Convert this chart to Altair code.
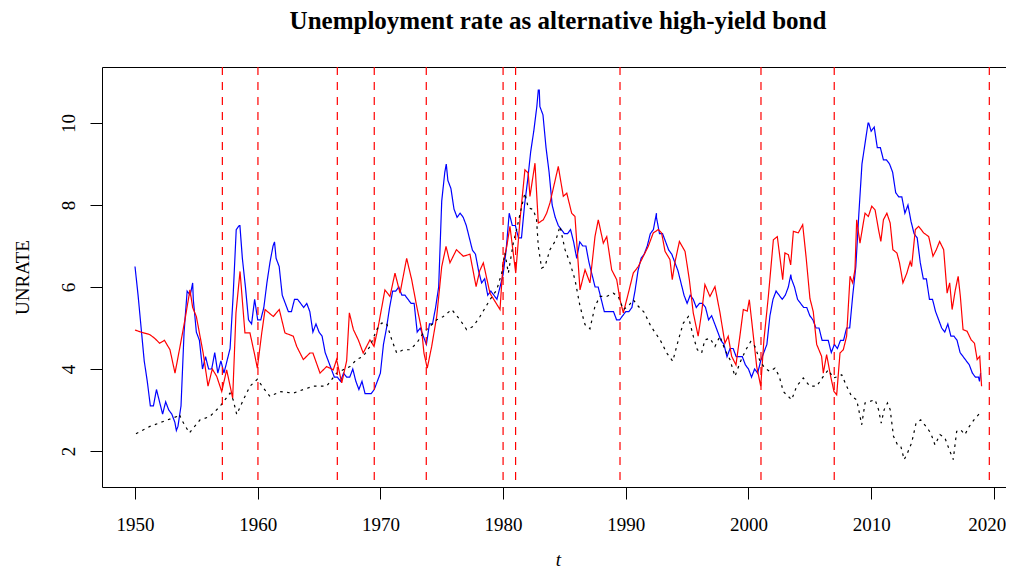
import altair as alt
import pandas as pd

# ---------------- data ----------------
# Blue: UNRATE, quarterly readings starting 1950.0 (step 0.25 yr)
blue_start = 1950.0
blue_v = [
    6.5, 5.8, 5.0, 4.2,   3.7, 3.1, 3.1, 3.5,   3.2, 2.9, 3.2, 3.0,   2.9, 2.7, 2.6, 3.1,
    4.9, 5.9, 5.8, 5.7,   4.9, 4.7, 4.0, 4.3,   4.0, 4.0, 4.4, 3.9,   4.2, 3.9, 4.2, 4.5,
    5.8, 7.4, 7.5, 6.7,   6.0, 5.2, 5.1, 5.7,   5.2, 5.2, 5.5, 6.1,   6.6, 7.0, 6.7, 6.5,
    5.8, 5.6, 5.4, 5.4,   5.7, 5.7, 5.6, 5.5,   5.6, 5.4, 4.9, 5.1,   4.9, 4.8, 4.4, 4.2,
    4.0, 3.8, 3.8, 3.7,   3.9, 3.8, 3.8, 4.0,   3.7, 3.5, 3.7, 3.4,   3.4, 3.4, 3.5, 3.7,
    3.9, 4.6, 5.0, 5.5,   5.9, 5.9, 6.0, 5.8,   5.8, 5.7, 5.6, 5.6,   4.9, 5.0, 4.8, 4.6,
    5.1, 5.1, 5.5, 6.0,   8.1, 8.8, 8.6, 8.4,   7.9, 7.7, 7.8, 7.7,   7.5, 7.2, 6.9, 6.8,
    6.4, 6.1, 6.2, 5.8,   5.9, 5.8, 5.7, 6.0,   6.3, 6.9, 7.8, 7.5,   7.5, 7.2, 7.2, 8.0,
    8.6, 9.3, 9.8, 10.4,  10.4, 10.2, 9.4, 8.8, 8.0, 7.7, 7.5, 7.4,   7.3, 7.3, 7.4, 7.1,
    6.7, 7.1, 7.0, 7.0,   6.6, 6.3, 6.0, 6.0,   5.7, 5.4, 5.4, 5.4,   5.4, 5.2, 5.2, 5.3,
    5.4, 5.4, 5.5, 5.9,   6.4, 6.7, 6.8, 7.0,   7.3, 7.4, 7.7, 7.3,   7.3, 7.1, 6.9, 6.8,
    6.6, 6.4, 6.1, 5.8,   5.6, 5.8, 5.7, 5.5,   5.6, 5.6, 5.5, 5.2,   5.3, 5.1, 4.9, 4.7,
    4.6, 4.3, 4.5, 4.5,   4.3, 4.3, 4.3, 4.1,   4.0, 3.8, 4.0, 3.9,   4.2, 4.4, 4.6, 5.3,
    5.7, 5.9, 5.8, 5.7,   5.8, 6.0, 6.2, 6.0,   5.7, 5.6, 5.5, 5.5,   5.3, 5.2, 5.0, 5.0,
    4.7, 4.7, 4.7, 4.4,   4.6, 4.5, 4.7, 4.7,   5.0, 5.0, 5.8, 6.5,   7.8, 9.0, 9.5, 10.0,
    9.8, 9.9, 9.4, 9.4,   9.1, 9.1, 9.0, 8.8,   8.3, 8.2, 8.2, 7.8,   8.0, 7.6, 7.3, 7.2,
    6.6, 6.2, 6.2, 5.7,   5.7, 5.4, 5.2, 5.0,   4.9, 5.1, 4.8, 4.8,   4.7, 4.4, 4.3, 4.2,
    4.1, 3.9, 3.8, 3.8,
]
# Blue: extra readings at local peaks / troughs / the end
blue_extra_t = [1953.37, 1954.7, 1958.55, 1961.37, 1975.37, 1982.87, 1982.95,
                1992.5, 2003.45, 2009.8, 2018.83, 2018.92]
blue_extra_v = [2.5, 6.1, 7.5, 7.1, 9.0, 10.8, 10.8, 7.8, 6.3, 10.0, 3.7, 3.9]

# Red series (time, value)
red_t = [1950.0, 1950.5, 1951.2, 1951.6, 1952.0, 1952.4, 1952.85, 1953.26, 1953.67, 1954.07,
         1954.48, 1954.7, 1955.0, 1955.55, 1955.95, 1956.3, 1956.66, 1957.07, 1957.47, 1957.96,
         1958.23, 1958.56, 1958.96, 1959.37, 1959.78, 1959.97, 1960.33, 1960.6, 1961.27, 1961.76,
         1962.22, 1962.9, 1963.18, 1963.72, 1964.26, 1964.5, 1965.08, 1965.62, 1966.16, 1966.43,
         1966.85, 1967.25, 1967.47, 1967.8, 1968.2, 1968.6, 1969.15, 1969.48, 1969.83, 1970.37,
         1970.78, 1971.19, 1971.6, 1972.14, 1972.55, 1972.96, 1973.36, 1973.55, 1973.82, 1974.18,
         1974.59, 1975.0, 1975.35, 1975.67, 1976.2, 1976.76, 1977.3, 1977.8, 1978.1, 1978.39,
         1978.93, 1979.75, 1980.0, 1980.3, 1980.56, 1981.03, 1981.38, 1981.78, 1982.05, 1982.19,
         1982.6, 1982.87, 1983.28, 1983.55, 1983.82, 1984.5, 1984.91, 1985.19, 1985.59, 1985.86,
         1986.27, 1986.68, 1987.08, 1987.49, 1987.76, 1988.17, 1988.45, 1988.85, 1989.26, 1989.53,
         1989.8, 1990.21, 1990.61, 1991.02, 1991.43, 1991.83, 1992.24, 1992.65, 1992.92, 1993.2,
         1993.6, 1993.79, 1994.0, 1994.37, 1994.83, 1995.18, 1995.5, 1995.9, 1996.18, 1996.45,
         1996.86, 1997.27, 1997.68, 1998.08, 1998.35, 1998.63, 1998.98, 1999.3, 1999.58, 1999.9,
         2000.07, 2000.4, 2000.67, 2001.0, 2001.26, 2001.62, 2002.03, 2002.35, 2002.79, 2002.97,
         2003.25, 2003.44, 2003.66, 2004.06, 2004.42, 2004.69, 2005.01, 2005.28, 2005.56, 2005.96,
         2006.1, 2006.37, 2006.7, 2006.97, 2007.19, 2007.46, 2007.73, 2008.0, 2008.28, 2008.49,
         2008.68, 2008.82, 2009.09, 2009.36, 2009.5, 2009.77, 2010.05, 2010.32, 2010.6, 2010.79,
         2011.0, 2011.28, 2011.55, 2011.77, 2012.1, 2012.31, 2012.59, 2012.91, 2013.18, 2013.3,
         2013.6, 2013.87, 2014.28, 2014.69, 2015.04, 2015.31, 2015.58, 2015.91, 2016.19, 2016.4,
         2016.6, 2016.86, 2017.09, 2017.27, 2017.49, 2017.82, 2018.15, 2018.42, 2018.64, 2018.85,
         2019.0]
red_v = [4.95, 4.9, 4.84, 4.75, 4.63, 4.7, 4.47, 3.9, 4.55, 5.2,
         5.93, 5.5, 5.28, 4.4, 3.58, 4.0, 3.82, 3.45, 3.98, 3.29,
         5.37, 6.38, 4.88, 4.88, 4.31, 4.02, 4.88, 5.45, 5.28, 5.45,
         4.88, 4.8, 4.55, 4.23, 4.39, 4.39, 3.9, 4.06, 3.98, 4.23,
         3.66, 4.2, 5.37, 4.96, 4.71, 4.39, 4.71, 4.55, 5.04, 5.93,
         5.77, 6.34, 5.85, 6.7, 6.18, 5.53, 4.96, 4.39, 4.02, 4.55,
         5.28, 6.5, 6.99, 6.59, 6.91, 6.75, 6.8, 6.01, 6.4, 6.59,
         5.85, 5.45, 6.59, 6.99, 7.48, 6.34, 7.64, 8.86, 8.78, 8.21,
         9.02, 7.56, 7.64, 7.8, 8.05, 8.94, 8.21, 8.29, 7.8, 7.72,
         5.93, 6.42, 6.1, 7.23, 7.64, 7.07, 7.23, 6.42, 6.18, 5.69,
         5.37, 5.85, 6.34, 6.5, 6.75, 6.99, 7.32, 7.4, 7.32, 6.87,
         6.67, 6.18, 6.59, 7.11, 6.87, 6.18, 5.37, 4.8, 5.37, 6.06,
         5.77, 6.01, 5.37, 4.63, 4.8, 4.31, 4.1, 4.8, 5.45, 5.41,
         5.69, 4.8, 4.06, 3.58, 4.71, 5.77, 7.15, 7.23, 6.18, 6.83,
         6.79, 6.54, 7.36, 7.32, 7.52, 6.75, 5.72, 5.4, 4.6, 4.31,
         3.9, 4.35, 3.82, 3.45, 3.37, 4.39, 4.47, 4.8, 6.26, 6.1,
         6.42, 7.64, 7.07, 7.56, 7.8, 7.72, 7.97, 7.88, 7.4, 7.11,
         7.64, 7.8, 7.56, 6.91, 6.83, 6.59, 6.1, 6.34, 6.62, 6.5,
         7.4, 7.48, 7.32, 7.23, 6.75, 6.91, 7.11, 6.91, 5.85, 6.1,
         5.45, 5.93, 6.26, 5.77, 4.96, 4.92, 4.71, 4.63, 4.23, 4.31,
         3.58]

# Black dotted series (time, value)
black_t = [1950.08, 1951.22, 1952.3, 1953.4, 1953.6, 1953.8, 1954.43, 1955.3, 1956.1, 1956.93,
           1957.74, 1958.0, 1958.29, 1958.83, 1959.37, 1959.97, 1960.46, 1961.0, 1961.82, 1962.9,
           1963.72, 1964.53, 1965.62, 1966.43, 1966.97, 1967.52, 1968.06, 1968.6, 1969.15, 1969.7,
           1970.1, 1970.5, 1970.93, 1971.33, 1971.88, 1972.4, 1972.96, 1973.5, 1974.04, 1974.59,
           1975.13, 1975.81, 1976.49, 1977.03, 1977.57, 1978.12, 1978.93, 1979.48, 1979.89, 1980.15,
           1980.43, 1980.83, 1981.1, 1981.52, 1981.78, 1982.05, 1982.46, 1982.73, 1982.87, 1983.14,
           1983.41, 1983.82, 1984.31, 1984.64, 1985.05, 1985.45, 1985.86, 1986.27, 1986.68, 1987.08,
           1987.49, 1987.9, 1988.45, 1988.98, 1989.39, 1989.8, 1990.21, 1990.61, 1991.02, 1991.5,
           1992.05, 1992.8, 1993.34, 1993.83, 1994.29, 1994.69, 1995.1, 1995.5, 1995.83, 1996.18,
           1996.45, 1996.86, 1997.27, 1997.68, 1998.08, 1998.49, 1998.9, 1999.3, 1999.79, 2000.18,
           2000.53, 2000.94, 2001.34, 2001.75, 2002.16, 2002.51, 2002.84, 2003.52, 2003.93, 2004.47,
           2005.01, 2005.56, 2006.1, 2006.51, 2006.92, 2007.33, 2007.6, 2008.0, 2008.41, 2008.82,
           2009.04, 2009.23, 2009.5, 2009.9, 2010.32, 2010.6, 2010.82, 2011.06, 2011.33, 2011.55,
           2011.82, 2012.15, 2012.42, 2012.69, 2012.96, 2013.3, 2013.66, 2014.04, 2014.47, 2014.85,
           2015.2, 2015.61, 2016.01, 2016.37, 2016.69, 2016.97, 2017.29, 2017.64, 2018.0, 2018.38,
           2018.81]
black_v = [2.42, 2.6, 2.72, 2.84, 2.9, 2.76, 2.44, 2.76, 2.84, 3.09,
           3.41, 3.25, 2.89, 3.25, 3.58, 3.75, 3.54, 3.33, 3.45, 3.41,
           3.5, 3.58, 3.58, 3.9, 3.98, 4.06, 4.23, 4.31, 4.55, 4.96,
           5.12, 5.12, 4.71, 4.39, 4.47, 4.47, 4.63, 4.88, 5.04, 5.2,
           5.28, 5.45, 5.2, 4.96, 5.04, 5.28, 5.69, 5.93, 6.34, 6.83,
           6.34, 7.07, 7.4, 7.97, 8.29, 7.93, 7.89, 7.64, 6.99, 6.46,
           6.5, 6.91, 7.15, 7.48, 6.91, 6.59, 6.18, 5.53, 5.08, 4.98,
           5.53, 5.77, 5.77, 5.85, 5.77, 5.45, 5.53, 5.69, 5.53, 5.38,
           5.04, 4.71, 4.39, 4.19, 4.71, 5.12, 5.28, 4.8, 4.47, 4.39,
           4.71, 4.75, 4.55, 4.8, 4.47, 4.23, 3.82, 4.15, 4.47, 4.67,
           4.55, 4.19, 4.02, 3.94, 4.02, 3.82, 3.45, 3.25, 3.58, 3.78,
           3.58, 3.58, 3.82, 3.98, 3.78, 3.82, 3.86, 3.58, 3.33, 3.25,
           2.93, 2.64, 3.17, 3.21, 3.25, 3.01, 2.68, 3.01, 3.17, 3.01,
           2.36, 2.15, 2.11, 1.79, 1.95, 2.2, 2.68, 2.76, 2.6, 2.44,
           2.15, 2.4, 2.32, 2.03, 1.79, 2.48, 2.52, 2.4, 2.6, 2.76,
           2.91]

# Vertical dashed lines (years)
vline_years = [1957.12, 1960.02, 1966.49, 1969.5, 1973.74, 1980.0, 1981.02,
               1989.53, 2001.02, 2006.99, 2019.63]

x_ticks = [1950, 1960, 1970, 1980, 1990, 2000, 2010, 2020]
y_ticks = [2, 4, 6, 8, 10]

# ---------------- build tables ----------------
blue_t = [blue_start + 0.25 * i for i in range(len(blue_v))]
blue_df = pd.DataFrame({"t": blue_t + blue_extra_t, "v": blue_v + blue_extra_v})
blue_df = blue_df.sort_values("t")
blue_df["series"] = "UNRATE"
red_df = pd.DataFrame({"t": red_t, "v": red_v, "series": "alternative"})
black_df = pd.DataFrame({"t": black_t, "v": black_v, "series": "trend"})
df = pd.concat([blue_df, red_df, black_df], ignore_index=True)
series_order = ["UNRATE", "alternative", "trend"]

FONT = "Liberation Serif"
xscale = alt.Scale(domain=[1947.31, 2020.99], nice=False, zero=False)
yscale = alt.Scale(domain=[1.122, 11.366], nice=False, zero=False)

x_bottom = alt.Axis(values=x_ticks, format="d", labelFlush=False, labelOverlap=False,
                    labelPadding=16,
                    labelOffset={"condition": {"test": "datum.value == 2020", "value": -7},
                                 "value": 0},
                    title="t", titleFontStyle="italic",
                    titleX=456, titleY=78, titleAlign="center", titleBaseline="alphabetic",
                    grid=False)
x_top = alt.Axis(orient="top", labels=False, ticks=False, title=None, grid=False,
                 domain=True)
y_axis = alt.Axis(values=y_ticks, labelAngle=270, labelAlign="center",
                  labelBaseline="alphabetic", labelPadding=16, labelOverlap=False,
                  title="UNRATE", titleAngle=270, titleX=-74, titleY=210,
                  titleAlign="center", titleBaseline="alphabetic", grid=False)

lines = alt.Chart(df).mark_line(clip=True).encode(
    x=alt.X("t:Q", scale=xscale, axis=x_bottom),
    y=alt.Y("v:Q", scale=yscale, axis=y_axis),
    color=alt.Color("series:N", sort=series_order,
                    scale=alt.Scale(domain=series_order,
                                    range=["#0000ff", "#ff0000", "#000000"]),
                    legend=None),
    strokeDash=alt.StrokeDash("series:N", sort=series_order,
                              scale=alt.Scale(domain=series_order,
                                              range=[[1, 0], [1, 0], [2.6, 4.4]]),
                              legend=None),
    strokeWidth=alt.StrokeWidth("series:N", sort=series_order,
                                scale=alt.Scale(domain=series_order,
                                                range=[1.2, 1.2, 2.6]),
                                legend=None),
)

vlines = alt.Chart(pd.DataFrame({"t": vline_years})).mark_rule(
    color="#ff0000", strokeDash=[8, 7], strokeWidth=1.2
).encode(
    x=alt.X("t:Q", scale=xscale, axis=x_top),
)

chart = alt.layer(lines, vlines).resolve_axis(x="independent").properties(
    width=904,
    height=420,
    autosize=alt.AutoSizeParams(type="none"),
    padding={"left": 94, "top": 59, "right": 0, "bottom": 83},
    title=alt.TitleParams(
        "Unemployment rate as alternative high-yield bond",
        font=FONT, fontSize=25, fontWeight="bold", color="black",
        anchor="middle", baseline="top", offset=32, dx=4,
    ),
).configure_view(stroke=None).configure_axis(
    domainColor="black", domainWidth=1, tickColor="black", tickWidth=1, tickSize=12,
    labelFont=FONT, labelFontSize=19, labelColor="black",
    titleFont=FONT, titleFontSize=19, titleFontWeight="normal", titleColor="black",
)

chart.save("out.html", embed_options={"renderer": "svg", "actions": False})
